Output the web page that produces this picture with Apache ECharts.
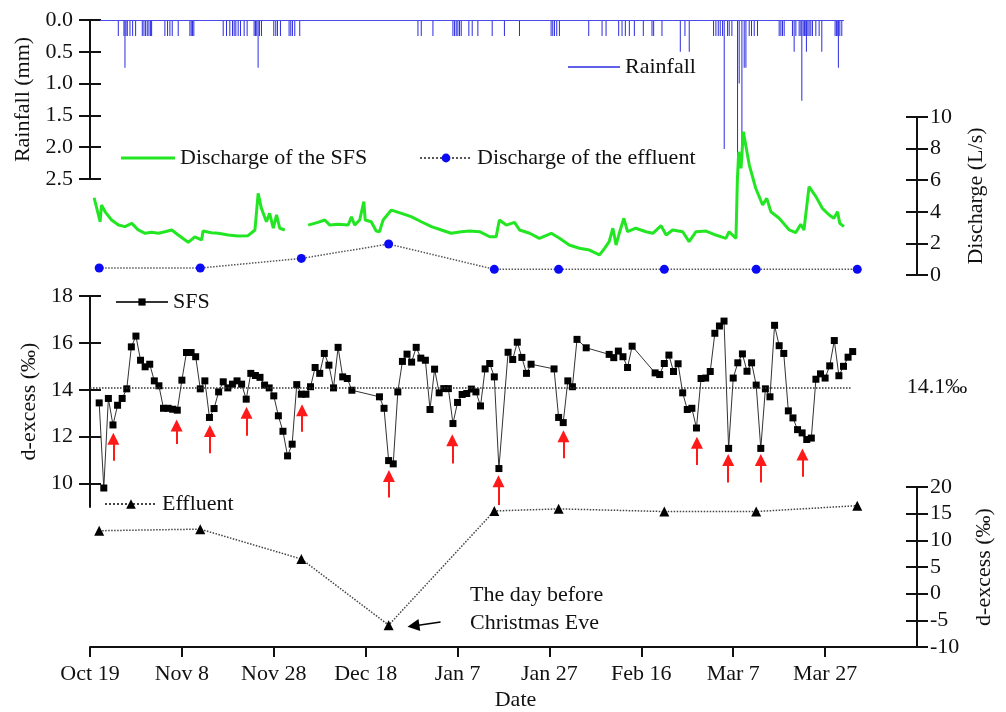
<!DOCTYPE html>
<html>
<head>
<meta charset="utf-8">
<script src="https://cdn.jsdelivr.net/npm/echarts@6/dist/echarts.min.js"></script>
<style>
  html, body { margin: 0; padding: 0; background: #fff; }
  #chart { width: 1006px; height: 712px; }
</style>
</head>
<body>
<div id="chart"></div>
<script>
// x values are days counted from Oct 19
const tickLabels = ["Oct 19", "Nov 8", "Nov 28", "Dec 18", "Jan 7", "Jan 27", "Feb 16", "Mar 7", "Mar 27"];
const tickStep = 20;
const tickDays = tickLabels.map((_, i) => i * tickStep);

// rainfall (mm)
const rainDays = [6.16, 7.39, 7.61, 7.83, 8.12, 8.7, 9.28, 9.93, 11.38, 11.74, 12.1, 12.46, 12.83, 13.19, 13.41,
  16.3, 16.88, 17.39, 17.9, 19.2, 21.74, 22.03, 22.32, 22.6, 28.99, 29.71, 30.43, 31.01, 31.38, 31.74, 32.25,
  32.75, 33.55, 34.2, 35.72, 36.01, 36.3, 36.59, 36.88, 37.32, 40.0, 40.43, 40.8, 41.45, 43.33, 43.7, 44.06,
  44.57, 45.65, 71.38, 72.1, 74.64, 78.99, 79.35, 79.71, 80.07, 80.43, 80.8, 82.46, 83.19, 84.42, 87.54, 90.2,
  93.48, 100.36, 100.72, 101.09, 101.59, 102.17, 108.55, 111.45, 112.32, 115.07, 115.8, 116.52, 117.39, 118.48,
  120.43, 122.32, 122.68, 124.49, 128.48, 129.49, 130.43, 135.72, 136.23, 136.74, 137.17, 137.68, 138.04,
  138.77, 139.13, 139.71, 140.94, 141.3, 141.89, 142.39, 142.76, 143.48, 143.98, 144.57, 145.28, 150.0, 150.37,
  150.72, 151.09, 152.89, 153.26, 153.63, 154.35, 154.72, 154.93, 155.22, 155.5, 155.8, 155.93, 156.24, 156.52,
  156.89, 157.24, 157.98, 158.7, 159.28, 162.17, 162.46, 162.76, 162.89, 163.2, 163.63];
const rainMm = [0.25, 0.25, 0.75, 0.25, 0.25, 0.25, 0.25, 0.25, 0.25, 0.25, 0.25, 0.25, 0.25, 0.25, 0.25,
  0.25, 0.25, 0.25, 0.25, 0.25, 0.25, 0.25, 0.25, 0.25, 0.25, 0.25, 0.25, 0.25, 0.25, 0.25, 0.25,
  0.25, 0.25, 0.25, 0.25, 0.25, 0.25, 0.75, 0.25, 0.25, 0.25, 0.25, 0.25, 0.25, 0.25, 0.25, 0.25,
  0.25, 0.25, 0.25, 0.25, 0.25, 0.25, 0.25, 0.25, 0.25, 0.25, 0.25, 0.25, 0.25, 0.25, 0.25, 0.25,
  0.25, 0.25, 0.25, 0.25, 0.25, 0.25, 0.25, 0.25, 0.25, 0.25, 0.25, 0.25, 0.25, 0.25,
  0.25, 0.25, 0.25, 0.25, 0.5, 0.25, 0.5, 0.25, 0.25, 0.25, 0.25, 0.25, 2.03,
  0.25, 0.25, 0.25, 2.49, 1.0, 2.03, 0.75, 0.75, 0.25, 0.25, 0.25, 0.25, 0.25, 0.25,
  0.25, 0.25, 0.25, 0.5, 0.25, 0.25, 0.25, 1.27, 0.25, 0.25, 0.25, 0.5, 0.25, 0.25,
  0.25, 0.25, 0.25, 0.25, 0.5, 0.25, 0.25, 0.25, 0.75, 0.25, 0.25];
const rainLineFrom = 2.2;
const rainLineTo = 164.1;

// discharge of the SFS (L/s), null = gap in record
const sfsQDays = [0.9, 2.2, 2.5, 3.3, 4.7, 6.2, 7.6, 9.1, 10.5, 12.0, 13.4, 14.9, 16.3, 17.8, 19.2, 20.7, 21.4,
  22.8, 24.3, 24.6, 26.4, 27.9, 30.1, 32.2, 34.4, 35.9, 36.6, 37.3, 38.4, 39.1, 39.9, 40.6, 41.3, 42.4, 45.0,
  47.5, 49.6, 51.1, 52.2, 54.0, 56.2, 56.9, 57.6, 58.7, 59.6, 59.9, 61.2, 62.3, 63.0, 63.8, 65.6, 67.8, 69.9,
  72.1, 74.3, 76.5, 78.6, 80.8, 82.6, 84.8, 87.0, 88.4, 89.1, 90.6, 92.4, 93.5, 95.7, 97.8, 100.4, 102.2,
  104.3, 106.5, 108.7, 110.9, 112.0, 113.0, 113.8, 114.5, 115.2, 116.2, 117.0, 118.8, 121.0, 122.5, 124.3,
  125.4, 126.8, 129.0, 130.4, 131.9, 134.1, 136.2, 138.4, 139.1, 140.6, 140.9, 141.2, 141.7, 142.2, 143.5,
  144.9, 146.4, 147.3, 148.2, 150.0, 152.2, 153.6, 154.7, 155.4, 156.5, 158.0, 159.4, 160.9, 161.9, 162.7,
  163.2, 164.1];
const sfsQ = [4.89, 3.37, 4.43, 4.0, 3.48, 3.16, 3.06, 3.27, 2.85, 2.64, 2.7, 2.64, 2.74, 2.85, 2.53, 2.22, 2.07,
  2.42, 2.22, 2.78, 2.68, 2.64, 2.53, 2.47, 2.49, 2.85, 5.17, 4.22, 3.37, 3.9, 2.96, 3.8, 2.96, 2.85, null,
  3.16, 3.33, 3.48, 3.16, 3.21, 3.16, 3.69, 3.16, 3.48, 4.64, 3.48, 3.37, 2.78, 2.74, 3.48, 4.11, 3.9, 3.69,
  3.37, 3.06, 2.85, 2.64, 2.74, 2.78, 2.74, 2.42, 2.42, 3.48, 3.16, 3.33, 2.85, 2.64, 2.32, 2.64, 2.32,
  1.9, 1.69, 1.58, 1.27, 1.69, 2.11, 2.96, 1.9, 2.64, 3.59, 2.74, 2.96, 2.74, 2.64, 3.12,
  2.53, 2.85, 2.74, 2.11, 2.74, 2.78, 2.53, 2.32, 2.74, 2.32, 6.0, 7.8, 6.75, 9.07, 6.96,
  5.49, 4.43, 4.85, 4.0, 3.59, 2.85, 2.68, 3.21, 2.85, 5.59, 4.96, 4.22, 3.8, 3.59, 4.0,
  3.27, 3.06];

// effluent sampling: discharge (L/s) and d-excess (‰)
const effDays = [2, 24, 46, 65, 88, 102, 125, 145, 167];
const effQ = [0.44, 0.44, 1.05, 1.96, 0.36, 0.36, 0.36, 0.36, 0.36];
const effDex = [11.8, 12.1, 6.5, -5.9, 15.5, 15.9, 15.4, 15.4, 16.5];

// d-excess of the SFS (‰)
const sfsDays = [2, 3, 4, 5, 6, 7, 8, 9, 10, 11, 12, 13, 14, 15, 16, 17, 18, 19, 20, 21, 22, 23, 24, 25, 26, 27,
  28, 29, 30, 31, 32, 33, 34, 35, 36, 37, 38, 39, 40, 41, 42, 43, 44, 45, 46, 47, 48, 49, 50, 51, 52, 53, 54,
  55, 56, 57, 63, 64, 65, 66, 67, 68, 69, 70, 71, 72, 73, 74, 75, 76, 77, 78, 79, 80, 81, 82, 83, 84, 85, 86,
  87, 88, 89, 91, 92, 93, 94, 95, 96, 101, 102, 103, 104, 105, 106, 108, 113, 114, 115, 116, 117, 118, 123,
  124, 125, 126, 127, 128, 129, 130, 131, 132, 133, 134, 135, 136, 137, 138, 139, 140, 141, 142, 143, 144,
  145, 146, 147, 148, 149, 150, 151, 152, 153, 154, 155, 156, 157, 158, 159, 160, 161, 162, 163, 164, 165, 166];
const sfsDex = [13.44, 9.81, 13.63, 12.5, 13.34, 13.63, 14.04, 15.83, 16.29, 15.26, 14.98, 15.09, 14.38, 14.17,
  13.21, 13.21, 13.17, 13.13, 14.41, 15.59, 15.59, 15.41, 14.04, 14.38, 12.82, 13.2, 13.91, 14.34, 14.08, 14.24,
  14.38, 14.24, 13.6, 14.7, 14.61, 14.53, 14.2, 14.08, 13.74, 12.89, 12.23, 11.18, 11.68, 14.22, 13.81, 13.81,
  14.13, 14.95, 14.7, 15.55, 15.05, 14.08, 15.81, 14.55, 14.48, 13.98,
  13.7, 13.21, 10.98, 10.84, 13.91, 15.21, 15.52, 15.18, 15.81, 15.35, 15.26, 13.16, 14.88, 13.87, 14.05, 14.05,
  12.56, 13.46, 13.8, 13.84, 14.03, 13.91, 13.31, 14.89, 15.12, 14.55, 10.64, 15.6, 15.29, 16.03, 15.38, 14.7,
  15.09, 14.89, 12.82, 12.6, 14.38, 14.13, 16.15, 15.79, 15.51, 15.37, 15.65, 15.41, 14.95, 15.86,
  14.72, 14.65, 15.12, 15.48, 14.78, 15.11, 13.87, 13.16, 13.21, 12.37, 14.48, 14.5, 14.78, 16.41, 16.72, 16.93,
  11.5, 14.5, 15.15, 15.53, 14.79, 15.15, 14.2, 11.5, 14.04, 13.7, 16.75, 15.88, 15.55, 13.1, 12.8, 12.3, 12.16,
  11.88, 11.94, 14.45, 14.68, 14.5, 15.02, 16.1, 14.6, 15.0, 15.39, 15.63];
const sfsMean = 14.1;
const sfsMeanLineTo = 165.6;

// red arrows under the rain-event dips: day, head and tail (‰)
const arrowDays = [5.07, 18.85, 26.09, 34.07, 46.15, 65.07, 78.85, 88.91, 103.04, 132.1, 138.9, 146.0, 155.07];
const arrowHeads = [11.91, 12.48, 12.24, 13.02, 13.13, 10.32, 11.85, 10.1, 12.02, 11.74, 11.0, 11.0, 11.24];
const arrowTails = [10.97, 11.69, 11.29, 12.04, 12.21, 9.41, 10.86, 9.08, 11.08, 10.79, 10.04, 10.04, 10.29];

// "the day before Christmas Eve" pointer
const noteFrom = [76.3, -5.3];
const noteTo = [70.4, -6.05];

const font = '"Liberation Serif", "Times New Roman", serif';
const ink = "#111";
const pairs = (xs, ys) => xs.map((x, i) => [x, ys[i] == null ? "-" : ys[i]]);

const gridBox = { left: 90, right: 89, outerBoundsMode: "none" };

function xAxis(grid, visible) {
  return {
    type: "value", gridIndex: grid, min: 0, max: 180, show: visible,
    splitLine: { show: false },
    axisLine: { onZero: false, lineStyle: { color: ink, width: 2 } },
    axisTick: { customValues: tickDays, length: 10, lineStyle: { color: ink, width: 2 } },
    axisLabel: {
      customValues: tickDays, margin: 16, fontFamily: font, fontSize: 22, color: ink,
      formatter: (v) => tickLabels[Math.round(v / tickStep)],
    },
    name: visible ? "Date" : "", nameLocation: "middle", nameGap: 42,
    nameTextStyle: { fontFamily: font, fontSize: 22, color: ink, padding: [0, 0, 0, 24] },
  };
}

// each y axis is drawn twice so the ticks cross the axis line
function yAxes(grid, position, min, max, interval, name, nameGap, extra) {
  extra = extra || {};
  const custom = extra.ticks ? { customValues: extra.ticks } : {};
  const base = {
    type: "value", gridIndex: grid, position, min, max, interval,
    inverse: !!extra.inverse, splitLine: { show: false },
  };
  const label = Object.assign({ margin: extra.margin || 16, fontFamily: font, fontSize: 22, color: ink }, custom);
  if (extra.fmt) label.formatter = extra.fmt;
  return [
    Object.assign({}, base, {
      name, nameLocation: "middle", nameGap, nameRotate: 90,
      nameTextStyle: { fontFamily: font, fontSize: 22, color: ink },
      axisLine: { show: true, onZero: false, lineStyle: { color: ink, width: 2 } },
      axisTick: Object.assign({ show: true, length: 11, lineStyle: { color: ink, width: 2 } }, custom),
      axisLabel: label,
    }),
    Object.assign({}, base, {
      axisLine: { show: false, onZero: false },
      axisTick: Object.assign({ show: true, inside: true, length: 11, lineStyle: { color: ink, width: 2 } }, custom),
      axisLabel: { show: false },
    }),
  ];
}

function legend(name, left, top, w, h, icon) {
  return {
    data: [icon ? { name, icon } : name], left, top, itemWidth: w, itemHeight: h,
    padding: 0, selectedMode: false,
    textStyle: { fontFamily: font, fontSize: 22, color: ink },
  };
}

const arrowLines = arrowDays.map((d, i) => [{ coord: [d, arrowTails[i]] }, { coord: [d, arrowHeads[i]] }]);

const option = {
  animation: false,
  backgroundColor: "#fff",
  grid: [
    Object.assign({ top: 20, height: 159 }, gridBox),
    Object.assign({ top: 117, height: 158 }, gridBox),
    Object.assign({ top: 296, height: 211 }, gridBox),
    Object.assign({ top: 487, height: 160 }, gridBox),
  ],
  xAxis: [xAxis(0, false), xAxis(1, false), xAxis(2, false), xAxis(3, true)],
  yAxis: [].concat(
    yAxes(0, "left", 0, 2.5, 0.5, "Rainfall (mm)", 54, { inverse: true, fmt: (v) => v.toFixed(1), margin: 17 }),
    yAxes(1, "right", 0, 10, 2, "Discharge (L/s)", 48, { margin: 13 }),
    yAxes(2, "left", 9, 18, 1, "d-excess (‰)", 46, { ticks: [10, 12, 14, 16, 18], margin: 17 }),
    yAxes(3, "right", -10, 20, 5, "d-excess (‰)", 56, { margin: 13 })
  ),
  legend: [
    legend("Rainfall", 568, 56, 52, 1.5, "rect"),
    legend("Discharge of the SFS", 121, 147, 54, 3, "rect"),
    legend("Discharge of the effluent", 419, 147, 52, 11),
    legend("SFS", 115, 291, 52, 9),
    legend("Effluent", 104, 493, 52, 12),
  ],
  graphic: [{
    type: "text", left: 470, top: 581, silent: true,
    style: { text: "The day before\nChristmas Eve", font: '22px "Liberation Serif"', lineHeight: 28, fill: ink },
  }],
  series: [
    {
      name: "Rainfall", type: "bar", xAxisIndex: 0, yAxisIndex: 0, barWidth: 1,
      itemStyle: { color: "#2b2be0" },
      data: pairs(rainDays, rainMm),
      markLine: {
        silent: true, symbol: "none", label: { show: false },
        lineStyle: { color: "#4a4ae8", width: 1, type: "solid" },
        data: [[{ coord: [rainLineFrom, 0] }, { coord: [rainLineTo, 0] }]],
      },
    },
    {
      name: "Discharge of the SFS", type: "line", xAxisIndex: 1, yAxisIndex: 2,
      symbol: "none", connectNulls: false,
      itemStyle: { color: "#22e622" }, lineStyle: { color: "#22e622", width: 3 },
      data: pairs(sfsQDays, sfsQ),
    },
    {
      name: "Discharge of the effluent", type: "line", xAxisIndex: 1, yAxisIndex: 2,
      symbol: "circle", symbolSize: 9,
      itemStyle: { color: "#0a0af5" }, lineStyle: { color: "#555", width: 1.5, type: "dotted" },
      data: pairs(effDays, effQ),
    },
    {
      name: "SFS", type: "line", xAxisIndex: 2, yAxisIndex: 4,
      symbol: "rect", symbolSize: 7,
      itemStyle: { color: "#000" }, lineStyle: { color: "#333", width: 1 },
      data: pairs(sfsDays, sfsDex),
      markLine: {
        silent: true, symbol: ["none", "triangle"], symbolSize: 12,
        label: { show: false },
        lineStyle: { color: "#ff1a1a", width: 2, type: "solid" },
        data: [[
          {
            coord: [0, sfsMean], symbol: "none",
            lineStyle: { color: "#333", width: 1.5, type: "dotted" },
            label: {
              show: true, position: "end", distance: 56, formatter: "14.1‰",
              fontFamily: font, fontSize: 22, color: ink,
            },
          },
          { coord: [sfsMeanLineTo, sfsMean], symbol: "none" },
        ]].concat(arrowLines),
      },
    },
    {
      name: "Effluent", type: "line", xAxisIndex: 3, yAxisIndex: 6,
      symbol: "triangle", symbolSize: 10,
      itemStyle: { color: "#000" }, lineStyle: { color: "#444", width: 1.5, type: "dotted" },
      data: pairs(effDays, effDex),
      markLine: {
        silent: true, symbol: ["none", "triangle"], symbolSize: 12,
        label: { show: false },
        lineStyle: { color: "#000", width: 1.5, type: "solid" },
        data: [[{ coord: noteFrom }, { coord: noteTo }]],
      },
    },
  ],
};

const chart = echarts.init(document.getElementById("chart"));
chart.setOption(option);
</script>
</body>
</html>
